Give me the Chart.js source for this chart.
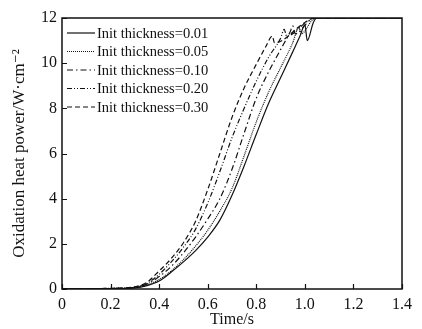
<!DOCTYPE html>
<html lang="en">
<head>
    <meta charset="UTF-8">
    <title>Oxidation heat power</title>
    <script src="https://cdn.jsdelivr.net/npm/chart.js"></script>
    <style>
        html, body { margin: 0; padding: 0; background: #fff; }
        #wrap { width: 422px; height: 329px; position: relative; }
    </style>
</head>
<body>
<div id="wrap"><canvas id="heatChart"></canvas></div>
<script>
// series labels
const seriesLabels = ["Init thickness=0.01", "Init thickness=0.05", "Init thickness=0.10", "Init thickness=0.20", "Init thickness=0.30"];

// time (s) / power (W/cm2)
const time001 = [0, 0.2, 0.3, 0.35, 0.4, 0.45, 0.5, 0.55, 0.6, 0.65, 0.7, 0.75, 0.8, 0.85, 0.9, 0.95, 0.98, 1.0, 1.01, 1.035, 1.05, 1.4];
const power001 = [0, 0.02, 0.05, 0.15, 0.35, 0.75, 1.2, 1.7, 2.3, 3.05, 4.15, 5.45, 6.85, 8.2, 9.35, 10.5, 11.2, 11.7, 11.0, 11.8, 12, 12];

const time005 = [0, 0.2, 0.3, 0.35, 0.4, 0.45, 0.5, 0.55, 0.6, 0.65, 0.7, 0.75, 0.8, 0.85, 0.9, 0.95, 0.975, 0.985, 1.03, 1.045, 1.4];
const power005 = [0, 0.02, 0.06, 0.18, 0.42, 0.8, 1.3, 1.9, 2.6, 3.45, 4.45, 5.9, 7.4, 8.7, 9.8, 10.9, 11.6, 11.3, 11.9, 12, 12];

const time010 = [0, 0.2, 0.3, 0.35, 0.4, 0.45, 0.5, 0.55, 0.6, 0.65, 0.7, 0.75, 0.8, 0.85, 0.9, 0.94, 0.95, 0.96, 1.02, 1.04, 1.4];
const power010 = [0, 0.02, 0.07, 0.22, 0.55, 1.0, 1.6, 2.3, 3.1, 4.0, 5.3, 6.9, 8.45, 9.6, 10.6, 11.4, 11.65, 11.3, 11.9, 12, 12];

const time020 = [0, 0.2, 0.3, 0.35, 0.4, 0.45, 0.5, 0.55, 0.6, 0.65, 0.7, 0.75, 0.8, 0.85, 0.9, 0.915, 0.925, 1.01, 1.04, 1.4];
const power020 = [0, 0.03, 0.08, 0.25, 0.65, 1.2, 1.85, 2.65, 3.8, 5.2, 6.7, 8.0, 9.2, 10.25, 11.1, 11.5, 11.2, 11.85, 12, 12];

const time030 = [0, 0.2, 0.3, 0.35, 0.4, 0.45, 0.5, 0.55, 0.6, 0.65, 0.7, 0.75, 0.8, 0.84, 0.866, 0.875, 1.0, 1.04, 1.4];
const power030 = [0, 0.03, 0.1, 0.3, 0.8, 1.35, 2.05, 3.0, 4.4, 6.0, 7.6, 8.9, 9.95, 10.75, 11.2, 10.9, 11.8, 12, 12];

const xTicks = [0, 0.2, 0.4, 0.6, 0.8, 1.0, 1.2, 1.4];
const yTicks = [0, 2, 4, 6, 8, 10, 12];

const allTimes = [time001, time005, time010, time020, time030];
const allPowers = [power001, power005, power010, power020, power030];
const dashes = [[], [1, 1], [6, 3, 1.5, 3], [5, 2, 1, 2, 1, 2], [5, 3]];

const datasets = seriesLabels.map((label, i) => ({
    label: label,
    data: allTimes[i].map((t, j) => ({ x: t, y: allPowers[i][j] })),
    borderColor: "#111",
    borderWidth: 1.2,
    borderDash: dashes[i],
    pointRadius: 0,
    fill: false,
    cubicInterpolationMode: "monotone"
}));

const serif = '"Liberation Serif", "DejaVu Serif", serif';

// box, inward ticks and legend
const framePlugin = {
    id: "frame",
    afterDraw(chart) {
        const { ctx, chartArea: a, scales } = chart;
        ctx.save();
        ctx.strokeStyle = "#111";
        ctx.lineWidth = 1.5;
        ctx.setLineDash([]);
        ctx.strokeRect(a.left, a.top, a.right - a.left, a.bottom - a.top);
        ctx.lineWidth = 1.2;
        ctx.beginPath();
        xTicks.forEach(v => {
            const px = Math.round(scales.x.getPixelForValue(v)) + 0.5;
            ctx.moveTo(px, a.bottom);
            ctx.lineTo(px, a.bottom - 5);
        });
        yTicks.forEach(v => {
            const py = Math.round(scales.y.getPixelForValue(v)) + 0.5;
            ctx.moveTo(a.left, py);
            ctx.lineTo(a.left + 5, py);
        });
        ctx.stroke();

        // legend
        ctx.font = "14.5px " + serif;
        ctx.fillStyle = "#111";
        ctx.textBaseline = "middle";
        seriesLabels.forEach((label, i) => {
            const ly = a.top + 15 + i * 18.5;
            ctx.beginPath();
            ctx.setLineDash(dashes[i]);
            ctx.lineWidth = 1.2;
            ctx.moveTo(a.left + 5, ly);
            ctx.lineTo(a.left + 33, ly);
            ctx.stroke();
            ctx.setLineDash([]);
            ctx.fillText(label, a.left + 35, ly + 1);
        });
        ctx.restore();
    }
};

new Chart(document.getElementById("heatChart"), {
    type: "line",
    data: { datasets: datasets },
    options: {
        responsive: true,
        maintainAspectRatio: false,
        animation: false,
        layout: { padding: { top: 18, right: 20, left: 0, bottom: 0 } },
        plugins: {
            legend: { display: false },
            tooltip: { enabled: false }
        },
        scales: {
            x: {
                type: "linear",
                min: 0,
                max: 1.4,
                afterBuildTicks: s => { s.ticks = xTicks.map(v => ({ value: v })); },
                afterFit: s => { s.height = 40; },
                grid: { display: false, drawTicks: false },
                border: { display: false },
                ticks: {
                    color: "#111",
                    padding: 6,
                    maxRotation: 0,
                    font: { family: serif, size: 16 },
                    callback: v => v === 0 ? "0" : v.toFixed(1)
                },
                title: {
                    display: true,
                    text: "Time/s",
                    color: "#111",
                    padding: 0,
                    font: { family: serif, size: 16 }
                }
            },
            y: {
                min: 0,
                max: 12,
                afterBuildTicks: s => { s.ticks = yTicks.map(v => ({ value: v })); },
                afterFit: s => { s.width = 62; },
                grid: { display: false, drawTicks: false },
                border: { display: false },
                ticks: {
                    color: "#111",
                    padding: 5,
                    font: { family: serif, size: 16 }
                },
                title: {
                    display: true,
                    text: "Oxidation heat power/W·cm⁻²",
                    color: "#111",
                    padding: { top: 9, bottom: 0 },
                    font: { family: serif, size: 17 }
                }
            }
        }
    },
    plugins: [framePlugin]
});
</script>
</body>
</html>
